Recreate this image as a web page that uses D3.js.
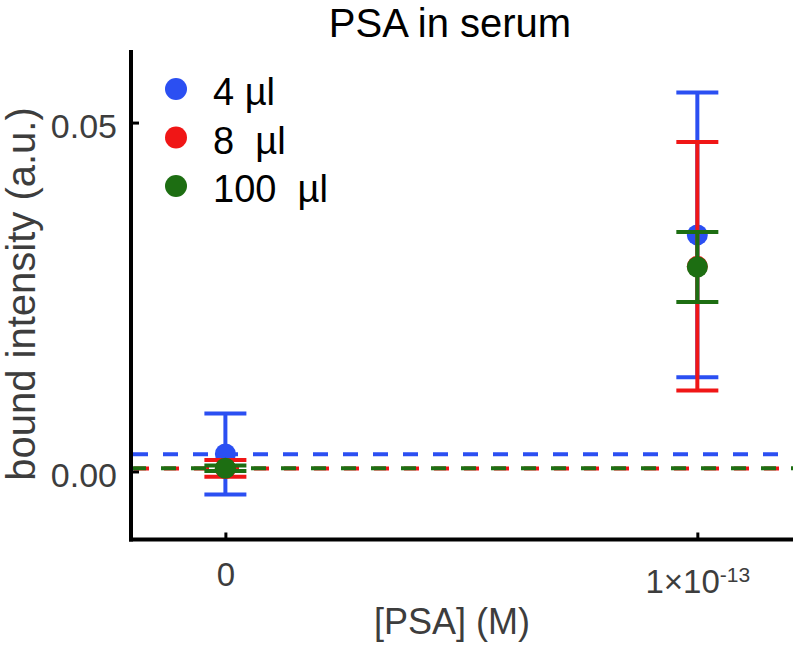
<!DOCTYPE html>
<html>
<head>
<meta charset="utf-8">
<script src="https://cdn.jsdelivr.net/npm/d3@7/dist/d3.min.js"></script>
<style>
  html, body { margin: 0; padding: 0; background: #fff; }
  svg { display: block; font-family: "Liberation Sans", Arial, Helvetica, sans-serif; }
</style>
</head>
<body>
<svg id="chart" width="797" height="649"></svg>
<script>
// ---- data ----
const concentrations = [0, 1e-13];
const seriesNames = ["4  µl", "8  µl", "100  µl"];
const legendLabels = ["4 µl", "8  µl", "100  µl"];
const seriesColors = ["#2b4ff2", "#f01616", "#1d6e12"];
const means4 = [0.0025, 0.0339];
const errs4 = [0.0058, 0.0204];
const means8 = [0.00043, 0.0294];
const errs8 = [0.0012, 0.0178];
const means100 = [0.00046, 0.0293];
const errs100 = [0.0004, 0.0050];
const baselines = [0.00246, 0.00043, 0.00046];
const yTickValues = [0, 0.05];
const yTickLabels = ["0.00", "0.05"];
const xTickBases = ["0", "1×10"];
const xTickExps = ["", "-13"];

const series = [
  { name: seriesNames[0], legend: legendLabels[0], color: seriesColors[0], means: means4, errs: errs4, base: baselines[0] },
  { name: seriesNames[1], legend: legendLabels[1], color: seriesColors[1], means: means8, errs: errs8, base: baselines[1] },
  { name: seriesNames[2], legend: legendLabels[2], color: seriesColors[2], means: means100, errs: errs100, base: baselines[2] }
];

// ---- layout ----
const svg = d3.select("#chart");
const pLeft = 131, pRight = 793, pTop = 50, pBottom = 539.5;

const x = d3.scaleLinear().domain([-0.2e-13, 1.2027e-13]).range([pLeft, pRight]);
const y = d3.scaleLinear().domain([-0.00975, 0.0604]).range([pBottom, pTop]);

// title
svg.append("text")
  .attr("x", 450).attr("y", 37)
  .attr("text-anchor", "middle")
  .attr("font-size", 40)
  .attr("fill", "#000")
  .text("PSA in serum");

// baseline dashed lines
const dashOffsets = [-2, -3, 0];
const dashG = svg.append("g");
series.forEach((s, i) => {
  dashG.append("line")
    .attr("x1", pLeft).attr("x2", pRight)
    .attr("y1", y(s.base)).attr("y2", y(s.base))
    .attr("stroke", s.color)
    .attr("stroke-width", 4)
    .attr("stroke-dasharray", "15,15")
    .attr("stroke-dashoffset", dashOffsets[i]);
});

// error bars + points
const capHalf = 21;
series.forEach(s => {
  const g = svg.append("g");
  concentrations.forEach((c, j) => {
    const cx = x(c);
    const lo = y(s.means[j] - s.errs[j]);
    const hi = y(s.means[j] + s.errs[j]);
    g.append("line").attr("x1", cx).attr("x2", cx).attr("y1", lo).attr("y2", hi)
      .attr("stroke", s.color).attr("stroke-width", 4);
    g.append("line").attr("x1", cx - capHalf).attr("x2", cx + capHalf).attr("y1", lo).attr("y2", lo)
      .attr("stroke", s.color).attr("stroke-width", 4);
    g.append("line").attr("x1", cx - capHalf).attr("x2", cx + capHalf).attr("y1", hi).attr("y2", hi)
      .attr("stroke", s.color).attr("stroke-width", 4);
  });
  g.selectAll("circle").data(concentrations).enter().append("circle")
    .attr("cx", d => x(d))
    .attr("cy", (d, j) => y(s.means[j]))
    .attr("r", 10.5)
    .attr("fill", s.color);
});

// axes
const yAxis = d3.axisLeft(y).tickValues(yTickValues)
  .tickFormat((d, i) => yTickLabels[i]).tickSizeInner(-8).tickSizeOuter(0).tickPadding(14);
const yG = svg.append("g").attr("transform", `translate(${pLeft},0)`).call(yAxis);
yG.select(".domain").attr("stroke", "#000").attr("stroke-width", 4)
  .attr("d", `M0,${pTop}V${pBottom + 2}`);
yG.selectAll(".tick line").attr("stroke", "#000").attr("stroke-width", 3);
yG.selectAll(".tick text").attr("font-size", 34).attr("fill", "#3d3d3d")
  .attr("font-family", "Liberation Sans, Arial, sans-serif").attr("dy", "0.45em");

const xAxis = d3.axisBottom(x).tickValues(concentrations)
  .tickFormat(() => "").tickSizeInner(-7).tickSizeOuter(0);
const xG = svg.append("g").attr("transform", `translate(0,${pBottom})`).call(xAxis);
xG.select(".domain").attr("stroke", "#000").attr("stroke-width", 4)
  .attr("d", `M${pLeft - 2},0H${pRight}`);
xG.selectAll(".tick line").attr("stroke", "#000").attr("stroke-width", 3);
xG.selectAll(".tick").each(function(d, i) {
  const t = d3.select(this).append("text")
    .attr("y", xTickExps[i] ? 53.5 : 46.5)
    .attr("text-anchor", "middle")
    .attr("font-size", 33)
    .attr("fill", "#3d3d3d")
    .attr("font-family", "Liberation Sans, Arial, sans-serif");
  t.append("tspan").text(xTickBases[i]);
  if (xTickExps[i]) {
    t.append("tspan").attr("font-size", 21).attr("dy", -11).text(xTickExps[i]);
  }
});

// axis titles
svg.append("text")
  .attr("x", 452).attr("y", 634)
  .attr("text-anchor", "middle")
  .attr("font-size", 36)
  .attr("fill", "#3d3d3d")
  .text("[PSA] (M)");

svg.append("text")
  .attr("transform", "translate(35,294) rotate(-90)")
  .attr("text-anchor", "middle")
  .attr("font-size", 40)
  .attr("fill", "#3d3d3d")
  .text("bound intensity (a.u.)");

// legend
const leg = svg.append("g");
series.forEach((s, i) => {
  const ly = 89 + i * 48.5;
  leg.append("circle").attr("cx", 176).attr("cy", ly).attr("r", 11).attr("fill", s.color);
  leg.append("text").attr("x", 213).attr("y", ly + 16)
    .attr("font-size", 38).attr("fill", "#000")
    .style("white-space", "pre")
    .text(s.legend);
});
</script>
</body>
</html>
